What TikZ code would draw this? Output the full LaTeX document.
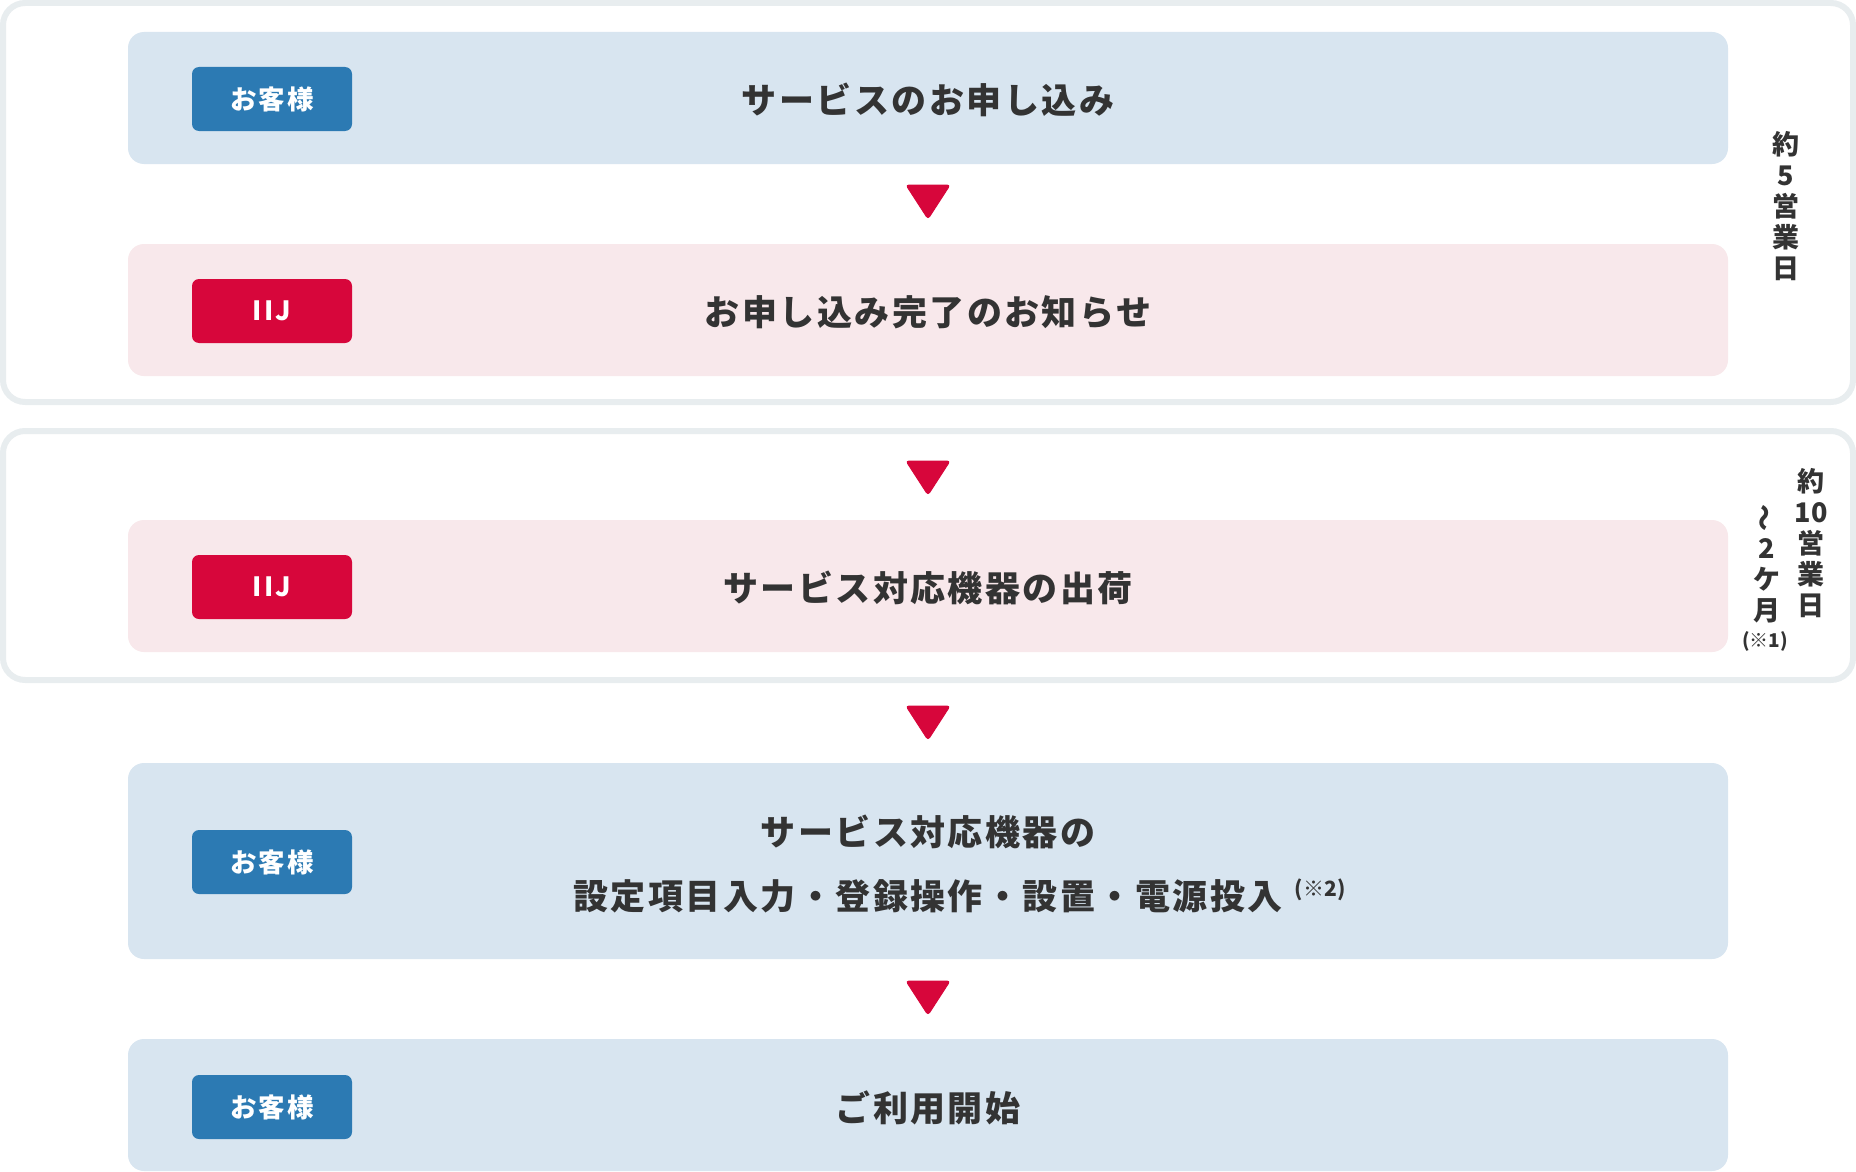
\documentclass[tikz,border=0pt]{standalone}
\usepackage{fontspec}
\usetikzlibrary{calc}
\setmainfont{Noto Sans CJK JP}
\newfontfamily\jpmain{Noto Sans CJK JP}[LetterSpace=7]
\newfontfamily\jpbadge{Noto Sans CJK JP}[LetterSpace=8]
\newfontfamily\jpside{Noto Sans CJK JP}
\definecolor{framegray}{HTML}{E8EDEF}
\definecolor{boxblue}{HTML}{D8E5F0}
\definecolor{boxpink}{HTML}{F8E8EB}
\definecolor{badgeblue}{HTML}{2C7AB3}
\definecolor{iijred}{HTML}{D7063B}
\definecolor{txt}{HTML}{333333}
\tikzset{
  framebox/.style={draw=framegray, line width=6pt, rounded corners=22pt, fill=white, minimum width=1850pt, inner sep=0pt},
  stepboxb/.style={fill=boxblue, rounded corners=16pt, minimum width=1600pt, minimum height=132pt, inner sep=0pt},
  stepboxp/.style={fill=boxpink, rounded corners=16pt, minimum width=1600pt, minimum height=132pt, inner sep=0pt},
  custbadge/.style={fill=badgeblue, rounded corners=7pt, minimum width=160pt, minimum height=64pt, inner sep=0pt, text=white, font=\jpbadge\bfseries\fontsize{26.5}{30}\selectfont},
  iijbadge/.style={fill=iijred, rounded corners=7pt, minimum width=160pt, minimum height=64pt, inner sep=0pt, text=white, font=\jpbadge\bfseries\fontsize{26.5}{30}\selectfont},
  maintext/.style={text=txt, inner sep=0pt, font=\jpmain\bfseries\fontsize{35}{64}\selectfont, align=center},
  sidetext/.style={text=txt, inner sep=0pt, font=\jpside\bfseries\fontsize{27}{31}\selectfont, align=center},
  notetext/.style={text=txt, inner sep=0pt, font=\jpside\bfseries\fontsize{19}{22}\selectfont},
  downarrow/.style={fill=iijred, draw=iijred, line width=1pt, rounded corners=3pt}
}
\begin{document}
\begin{tikzpicture}[x=1pt,y=-1pt]
\useasboundingbox (0,0) rectangle (1856,1172);
% frames
\node[framebox, minimum height=399pt] (f1) at (928,202.5) {};
\node[framebox, minimum height=249pt] (f2) at (928,555.5) {};
% step boxes
\node[stepboxb] (b1) at (928,98) {};
\node[stepboxp] (b2) at (928,310) {};
\node[stepboxp] (b3) at (928,586) {};
\node[stepboxb, minimum height=196pt] (b4) at (928,861) {};
\node[stepboxb] (b5) at (928,1105) {};
% badges
\node[custbadge] (g1) at (272,99) {お客様};
\node[iijbadge] (g2) at (272,311) {IIJ};
\node[iijbadge] (g3) at (272,587) {IIJ};
\node[custbadge] (g4) at (272,862) {お客様};
\node[custbadge] (g5) at (272,1107) {お客様};
% texts
\node[maintext] (t1) at (928,100) {サービスのお申し込み};
\node[maintext] (t2) at (928,312) {お申し込み完了のお知らせ};
\node[maintext] (t3) at (928,588) {サービス対応機器の出荷};
\node[maintext] (t4a) at (928,832) {サービス対応機器の};
\node[maintext] (t4b) at (928,896) {設定項目入力・登録操作・設置・電源投入};
\node[notetext, anchor=west, font=\jpside\bfseries\fontsize{21}{24}\selectfont] (n2) at (t4b.east) [xshift=12pt, yshift=6pt] {(※2)};
\node[maintext] (t5) at (928,1108) {ご利用開始};
% arrows
\foreach \yy/\nm in {202/a1,478/a2,723/a3,998/a4}{
  \coordinate (\nm) at (928,\yy);
  \filldraw[downarrow] ($(\nm)+(-22,-17)$) -- ($(\nm)+(22,-17)$) -- ($(\nm)+(0,17)$) -- cycle;
}
% side labels
\node[sidetext] (s1) at (1786,206) {約\\5\\営\\業\\日};
\node[sidetext] (s2) at (1811,543) {約\\10\\営\\業\\日};
\node[sidetext, rotate=90] (s3t) at (1767,518) {〜};
\node[sidetext] (s3) at (1767,581) {2\\ケ\\月};
\node[notetext] (n1) at (1765,641) {(※1)};
\end{tikzpicture}
\end{document}
